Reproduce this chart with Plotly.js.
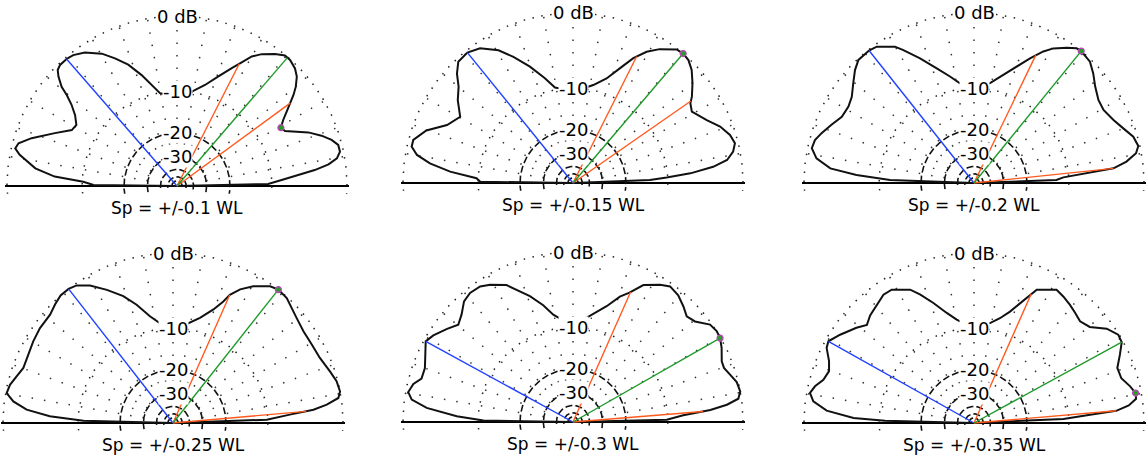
<!DOCTYPE html>
<html><head><meta charset="utf-8">
<script src="https://cdn.plot.ly/plotly-3.0.1.min.js"></script>
<style>html,body{margin:0;padding:0;background:#fff}#chart{width:1146px;height:456px}</style>
</head><body><div id="chart"></div>
<script>
// ---- captions and ring labels ----
const panelLabels = ["Sp = +/-0.1 WL","Sp = +/-0.15 WL","Sp = +/-0.2 WL","Sp = +/-0.25 WL","Sp = +/-0.3 WL","Sp = +/-0.35 WL"];
const ringLabels = ["0 dB","-10","-20","-30"];
const ringLabelDb = [0,-10,-20,-30];
const dottedRingDb = [0,-10];
const dashedRingDb = [-20,-30,-40,-50,-60];
const spokeAngles = [10,20,30,40,50,60,70,80,90,100,110,120,130,140,150,160,170];

// ---- elevation patterns (elevation angle in degrees, relative gain in dB) ----
const elev1 = [0,1.3,3.3,5.2,6.6,8.1,9.8,11.9,14.3,16.6,19.2,22.2,24.7,27.0,29.3,31.8,34.1,36.2,38.0,39.9,42.4,44.9,48.1,50.4,53.4,57.3,60.0,62.8,65.1,69.3,74.5,82.1,91.2,95.4,100.4,104.1,107.7,111.9,115.9,119.6,124.6,128.4,131.0,134.0,135.8,137.3,139.3,140.5,142.4,145.2,148.7,152.0,156.6,161.8,164.9,166.9,168.8,172.9,175.6,177.4,179.3,180];
const gain1 = [-99,-10.7,-8.3,-5.7,-3.5,-1.8,-0.8,-0.35,-0.37,-0.9,-1.8,-3.1,-4.6,-5.8,-6.1,-5.3,-4.3,-3.3,-2.4,-1.6,-0.8,-0.35,-0.07,-0.07,-0.58,-1.4,-2.2,-3.6,-4.6,-6.4,-8.3,-10.1,-10.6,-10.6,-10.1,-8.4,-6.5,-4.5,-3.1,-1.9,-0.8,-0.3,-0.17,-0.17,-0.37,-0.9,-1.9,-3.0,-4.2,-5.4,-6.3,-6.1,-4.2,-1.8,-0.6,-0.4,-1.0,-3.0,-5.6,-10.2,-12.2,-99];

const elev2 = [0,2.2,3.3,4.7,6.6,8.5,11.1,13.8,17.0,21.0,25.2,31.0,34.2,36.0,39.9,43.6,46.8,49.6,52.2,57.1,60.7,64.2,67.7,72.2,78.3,85.7,95.9,100.7,105.0,110.3,115.3,119.3,124.6,129.0,133.4,136.7,139.9,144.3,149.6,155.3,160.3,164.9,167.3,169.8,172.2,174.7,177.2,179.2,180];
const gain2 = [-99,-13.6,-10.2,-6.3,-3.2,-1.5,-0.7,-0.33,-0.6,-1.3,-2.4,-3.5,-3.1,-2.5,-1.5,-0.63,-0.14,0,-0.09,-1.1,-2.1,-3.5,-5.4,-7.5,-9.1,-10.2,-10.1,-9.6,-7.7,-5.4,-3.4,-1.9,-0.65,-0.22,-0.31,-1.1,-2.2,-3.1,-4.5,-3.5,-1.5,-0.47,-0.47,-1.2,-2.8,-5.5,-9.7,-10.4,-99];

const elev3 = [0,2.1,3.6,4.9,6.0,8.0,10.4,12.7,16.2,20.1,24.3,29.4,33.7,38.5,42.6,46.3,50.9,52.7,55.6,59.5,62.2,65.8,69.9,74.8,80.9,87.4,92.4,98.0,102.7,108.0,113.4,118.0,120.1,125.5,128.4,133.2,136.5,140.4,144.8,148.7,153.4,157.8,161.9,164.9,167.9,171.1,174.2,176.1,178.0,180];
const gain3 = [-99,-12.4,-11.0,-7.0,-3.3,-1.7,-0.54,-0.16,-0.42,-1.15,-1.8,-2.3,-2.2,-1.6,-0.83,-0.22,0,-0.07,-0.61,-1.45,-2.3,-3.75,-5.4,-7.2,-8.9,-9.9,-9.8,-9.0,-7.6,-5.9,-3.85,-2.1,-1.3,-0.26,-0.1,-0.12,-0.61,-1.4,-2.2,-2.5,-2.4,-1.7,-1.0,-0.54,-0.42,-1.1,-2.8,-6.3,-12.1,-99];

const elev4 = [0,2.0,4.1,5.4,6.8,8.6,10.7,14.3,18.2,23.9,29.5,35.1,40.3,44.1,47.7,51.7,54.6,59.6,63.3,66.1,67.5,70.4,75.6,82.1,89.8,97.4,102.2,107.1,111.4,116.4,121.1,125.0,127.9,131.4,134.9,138.6,144.5,149.7,154.7,159.8,163.4,166.8,169.8,172.3,174.8,176.9,178.5,180];
const gain4 = [-99,-10.2,-6.4,-3.2,-1.6,-0.28,0,-0.12,-0.49,-0.97,-1.1,-1.1,-0.81,-0.49,-0.1,0,-0.24,-1.2,-2.2,-3.3,-4.4,-5.9,-7.7,-9.1,-9.6,-9.0,-7.6,-5.45,-3.8,-2.3,-0.97,-0.21,0,0,-0.29,-0.63,-0.68,-0.84,-1.0,-1.1,-0.7,-0.26,-0.1,-0.92,-2.5,-5.5,-11.0,-99];

const elev5 = [0,1.4,3.5,5.0,6.4,8.0,10.3,13.7,16.8,19.7,22.2,26.5,29.7,32.3,35.4,39.5,42.9,46.3,50.3,54.4,57.6,62.8,66.4,69.5,73.8,79.3,84.2,89.8,96.3,100.4,104.3,108.9,113.1,115.9,121.1,124.4,128.6,132.1,136.0,139.7,143.5,148.2,151.3,155.5,160.0,164.0,166.6,169.7,172.1,174.5,177.2,179.1,180];
const gain5 = [-99,-10.2,-7.4,-3.6,-1.6,-0.31,0,-0.15,-0.61,-1.0,-0.97,-0.4,-0.07,0,-0.19,-1.25,-1.56,-1.06,-0.54,-0.33,-0.77,-1.7,-3.2,-4.1,-5.9,-7.5,-8.6,-8.9,-8.6,-7.6,-5.9,-4.2,-2.9,-1.9,-1.0,-0.58,-0.51,-0.77,-1.6,-2.1,-1.4,-0.58,-0.21,-0.77,-1.3,-1.3,-0.61,-0.26,-0.74,-2.5,-6.5,-11.0,-99];

const elev6 = [0,2.6,4.1,4.9,6.5,8.5,10.5,13.2,16.9,21.0,25.1,28.7,31.5,35.4,39.7,43.8,47.4,50.9,54.8,58.2,64.8,66.8,69.0,72.1,76.1,80.9,86.5,94.3,99.5,103.9,108.7,112.8,115.6,121.7,125.2,129.4,134.0,137.5,141.0,146.6,150.7,153.0,156.9,160.3,164.0,167.0,169.6,172.3,175.2,177.6,178.5,180];
const gain6 = [-99,-11.0,-6.5,-3.0,-1.5,-0.63,-0.58,-1.0,-1.7,-1.75,-0.92,-0.16,-0.09,-0.74,-2.1,-2.5,-2.2,-1.9,-1.6,-1.4,-2.45,-3.6,-4.8,-6.4,-7.8,-8.9,-9.5,-9.35,-8.3,-6.95,-5.05,-3.4,-2.4,-1.4,-1.36,-1.8,-2.2,-2.7,-2.0,-1.0,-0.31,-0.47,-1.3,-1.7,-1.4,-0.7,-0.33,-0.81,-2.4,-5.9,-11.1,-99];

// ---- cursor / beamwidth line directions (degrees) ----
const blueAngle    = [131.0,129.0,128.4,127.9,151.3,150.7];
const orangeAngleA = [63.0,63.3,64.2,66.1,66.1,66.1];
const orangeAngleB = [36.2,34.8,6.0,5.0,4.6,4.9];
const greenAngle   = [49.3,49.6,50.9,51.7,29.7,28.7];
const markerAngle  = [29.3,49.6,50.9,51.7,29.7,10.5];

const patterns = [[elev1,gain1],[elev2,gain2],[elev3,gain3],[elev4,gain4],[elev5,gain5],[elev6,gain6]];

// ---- layout geometry ----
const W = 1146, H = 456, R = 170;
const centers = [[177,186],[573,183],[974,183],[173,423],[573,422],[974,423]];
const XPAD = 1.01, YBOT = -0.045, YTOP = 1.02, CAPTION_OFFSET = 22;
const FONT = "DejaVu Sans, Liberation Sans, Arial, sans-serif";

// ARRL log scale: -2 dB per 0.89 of radius
function arrl(db){ return Math.pow(0.89, -db/2); }
function xy(deg, r){ const t = deg*Math.PI/180; return [r*Math.cos(t), r*Math.sin(t)]; }
function rAt(el, g, a){
  for (let i=0;i<el.length-1;i++){
    if (a>=el[i] && a<=el[i+1]){
      const f=(a-el[i])/(el[i+1]-el[i]);
      return arrl(g[i]) + f*(arrl(g[i+1])-arrl(g[i]));
    }
  }
  return arrl(g[g.length-1]);
}
function ringPath(dbList){
  const xs=[], ys=[];
  dbList.forEach(db=>{
    const r=arrl(db);
    for(let a=-12;a<=192;a+=1){ const p=xy(a,r); xs.push(p[0]); ys.push(p[1]); }
    xs.push(null); ys.push(null);
  });
  return [xs,ys];
}

const traces=[], annotations=[];
const layout = {width:W, height:H, margin:{l:0,r:0,t:0,b:0}, paper_bgcolor:'#fff', plot_bgcolor:'rgba(0,0,0,0)', showlegend:false, annotations:annotations, hovermode:false};

centers.forEach((c,i)=>{
  const s = i===0 ? '' : String(i+1);
  const xa='x'+s, ya='y'+s;
  const clamp=v=>Math.max(0,Math.min(1,v));
  layout['xaxis'+s] = {domain:[clamp((c[0]-XPAD*R)/W), clamp((c[0]+XPAD*R)/W)], range:[-XPAD,XPAD], anchor:ya,
    showgrid:false, zeroline:false, showticklabels:false, ticks:'', showline:false, fixedrange:true};
  layout['yaxis'+s] = {domain:[clamp(1-(c[1]-YBOT*R)/H), clamp(1-(c[1]-YTOP*R)/H)], range:[YBOT,YTOP], anchor:xa,
    showgrid:false, zeroline:true, zerolinecolor:'#000', zerolinewidth:2, showticklabels:false, ticks:'', showline:false, fixedrange:true};

  // spokes
  const sx=[], sy=[], r0=arrl(-30);
  spokeAngles.forEach(a=>{ const p0=xy(a,r0), p1=xy(a,1); sx.push(p0[0],p1[0],null); sy.push(p0[1],p1[1],null); });
  traces.push({type:'scatter',mode:'lines',x:sx,y:sy,xaxis:xa,yaxis:ya,line:{color:'#333',width:1.5,dash:'1.5px,11px'},hoverinfo:'skip'});
  // dotted rings
  const dr=ringPath(dottedRingDb);
  traces.push({type:'scatter',mode:'lines',x:dr[0],y:dr[1],xaxis:xa,yaxis:ya,line:{color:'#222',width:1.5,dash:'1.5px,7.5px'},hoverinfo:'skip'});
  // dashed rings
  const hr=ringPath(dashedRingDb);
  traces.push({type:'scatter',mode:'lines',x:hr[0],y:hr[1],xaxis:xa,yaxis:ya,line:{color:'#111',width:1.6,dash:'7px,3px'},hoverinfo:'skip'});

  // pattern
  const [el,g]=patterns[i];
  const px=[], py=[];
  el.forEach((a,j)=>{ const p=xy(a,arrl(g[j])); px.push(p[0]); py.push(p[1]); });
  traces.push({type:'scatter',mode:'lines',x:px,y:py,xaxis:xa,yaxis:ya,line:{color:'#111',width:2},hoverinfo:'skip'});

  // direction lines
  const lineDefs=[[blueAngle[i],'#2040ff'],[orangeAngleA[i],'#ff5a1e'],[orangeAngleB[i],'#ff5a1e'],[greenAngle[i],'#1f9a2a']];
  lineDefs.forEach(([a,col])=>{
    const p=xy(a,rAt(el,g,a));
    traces.push({type:'scatter',mode:'lines',x:[0,p[0]],y:[0,p[1]],xaxis:xa,yaxis:ya,line:{color:col,width:1.4},hoverinfo:'skip'});
  });
  // marker
  const m=xy(markerAngle[i],rAt(el,g,markerAngle[i]));
  traces.push({type:'scatter',mode:'markers',x:[m[0]],y:[m[1]],xaxis:xa,yaxis:ya,cliponaxis:false,
    marker:{size:6,color:'#2a9a2a',line:{color:'#c040c0',width:1.2}},hoverinfo:'skip'});

  // ring labels
  ringLabels.forEach((t,j)=>{
    annotations.push({xref:xa,yref:ya,x:0,y:arrl(ringLabelDb[j]),text:t,showarrow:false,xanchor:'center',yanchor:'middle',
      bgcolor:'#fff',borderpad:0,font:{family:FONT,size:18,color:'#000'}});
  });
  // caption (paper coordinates, below the horizon line)
  annotations.push({xref:'paper',yref:'paper',x:c[0]/W,y:1-(c[1]+CAPTION_OFFSET)/H,text:panelLabels[i],showarrow:false,
    xanchor:'center',yanchor:'middle',borderpad:0,font:{family:FONT,size:17,color:'#000'}});
});

Plotly.newPlot('chart',traces,layout,{displayModeBar:false,staticPlot:true});
</script>
</body></html>
